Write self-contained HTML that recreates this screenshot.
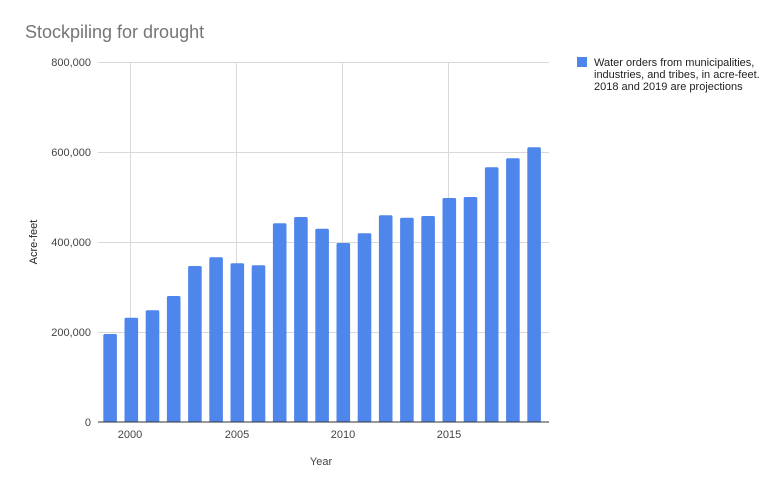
<!DOCTYPE html>
<html><head><style>body{margin:0;background:#fff}svg text{font-family:"Liberation Sans",sans-serif}</style></head><body>
<svg width="766" height="480" xmlns="http://www.w3.org/2000/svg">
<rect width="766" height="480" fill="#fff"/>
<text x="25" y="38" font-size="18" fill="#757575">Stockpiling for drought</text>
<g stroke="#d9d9d9" stroke-width="1">
<line x1="98" x2="549" y1="62.5" y2="62.5"/><line x1="98" x2="549" y1="152.5" y2="152.5"/>
<line x1="98" x2="549" y1="242.5" y2="242.5"/><line x1="98" x2="549" y1="332.5" y2="332.5"/>
<line x1="130.5" x2="130.5" y1="62" y2="422"/><line x1="236.5" x2="236.5" y1="62" y2="422"/>
<line x1="342.5" x2="342.5" y1="62" y2="422"/><line x1="448.5" x2="448.5" y1="62" y2="422"/>
</g>
<g fill="#4f86ec">
<rect x="103.3" y="334" width="13.6" height="90" rx="1.5"/>
<rect x="124.5" y="317.7" width="13.6" height="106.3" rx="1.5"/>
<rect x="145.7" y="310.3" width="13.6" height="113.7" rx="1.5"/>
<rect x="166.9" y="296" width="13.6" height="128" rx="1.5"/>
<rect x="188.1" y="266" width="13.6" height="158" rx="1.5"/>
<rect x="209.3" y="257.3" width="13.6" height="166.7" rx="1.5"/>
<rect x="230.5" y="263.3" width="13.6" height="160.7" rx="1.5"/>
<rect x="251.7" y="265.3" width="13.6" height="158.7" rx="1.5"/>
<rect x="272.9" y="223.3" width="13.6" height="200.7" rx="1.5"/>
<rect x="294.1" y="217" width="13.6" height="207" rx="1.5"/>
<rect x="315.3" y="228.7" width="13.6" height="195.3" rx="1.5"/>
<rect x="336.5" y="243" width="13.6" height="181" rx="1.5"/>
<rect x="357.7" y="233.3" width="13.6" height="190.7" rx="1.5"/>
<rect x="378.9" y="215.3" width="13.6" height="208.7" rx="1.5"/>
<rect x="400.1" y="217.7" width="13.6" height="206.3" rx="1.5"/>
<rect x="421.3" y="216" width="13.6" height="208" rx="1.5"/>
<rect x="442.5" y="198" width="13.6" height="226" rx="1.5"/>
<rect x="463.7" y="197" width="13.6" height="227" rx="1.5"/>
<rect x="484.9" y="167.3" width="13.6" height="256.7" rx="1.5"/>
<rect x="506.1" y="158.3" width="13.6" height="265.7" rx="1.5"/>
<rect x="527.3" y="147.3" width="13.6" height="276.7" rx="1.5"/>
</g>
<rect x="98" y="422" width="451" height="4" fill="#fff"/>
<line x1="98" x2="549" y1="422" y2="422" stroke="#333" stroke-width="1"/>
<g font-size="11" fill="#444" text-anchor="end">
<text x="91" y="66">800,000</text><text x="91" y="156">600,000</text><text x="91" y="246">400,000</text><text x="91" y="336">200,000</text><text x="91" y="426">0</text>
</g>
<g font-size="11" fill="#444" text-anchor="middle">
<text x="130" y="438">2000</text><text x="237" y="438">2005</text><text x="343" y="438">2010</text><text x="449" y="438">2015</text>
<text x="321" y="465">Year</text>
</g>
<text transform="translate(37,242) rotate(-90)" font-size="11" fill="#222" text-anchor="middle">Acre-feet</text>
<rect x="577" y="57" width="10" height="10" fill="#4f86ec"/>
<g font-size="11" fill="#222"><text x="594" y="66">Water orders from municipalities,</text><text x="594" y="78">industries, and tribes, in acre-feet.</text><text x="594" y="90">2018 and 2019 are projections</text></g>
</svg>
</body></html>
